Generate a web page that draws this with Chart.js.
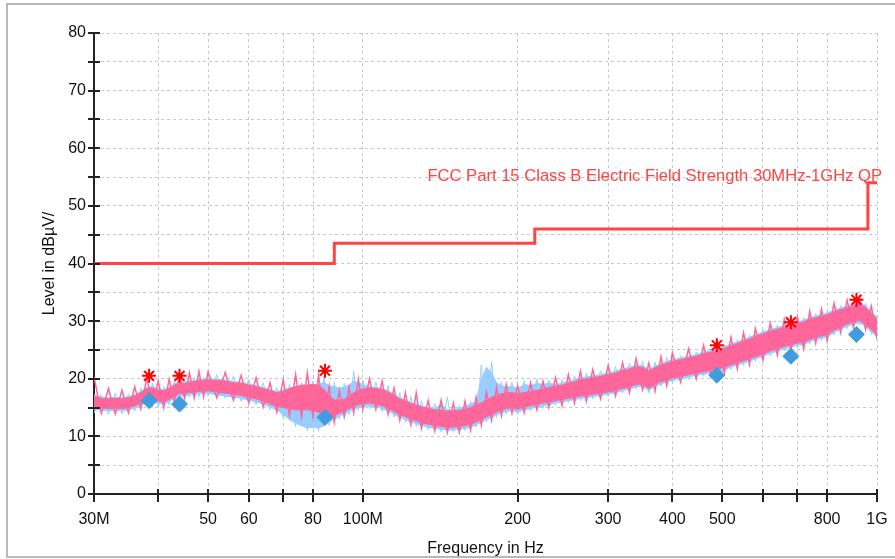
<!DOCTYPE html>
<html>
<head>
<meta charset="utf-8">
<script src="https://cdn.jsdelivr.net/npm/chart.js@4.4.1/dist/chart.umd.min.js"></script>
<style>
    html, body { margin: 0; padding: 0; background: #fff; overflow: hidden; width: 895px; height: 559px; }
    #frame { position: absolute; left: 6px; top: 3px; width: 887px; height: 551px; border: 2px solid #b9b9b9; border-right: none; }
    #wrap { position: absolute; left: 0; top: 0; width: 895px; height: 559px; }
</style>
</head>
<body>
<div id="frame"></div>
<div id="wrap"><canvas id="emc-chart"></canvas></div>
<script>
// frequencies in MHz
const freqMHz = [
    30, 31, 32, 33, 34, 35, 36, 37, 38, 39, 40, 41, 42, 43, 44, 45, 46, 47, 48, 49, 50,
    52, 54, 56, 58, 60, 62, 64, 66, 68, 70, 72, 74, 76, 78, 80, 82, 84, 86, 88, 90, 92, 94, 96, 98, 100,
    103, 106, 109, 112, 115, 118, 121, 124, 127, 130, 134, 138, 142, 146, 150,
    154, 158, 162, 166, 170, 174, 178, 182, 186, 190, 195, 200, 206, 212, 218, 224, 230,
    237, 244, 251, 258, 265, 272, 280, 290, 300, 310, 320, 330, 340, 350, 360, 370, 380, 390, 400,
    415, 430, 445, 460, 475, 490, 505, 520, 535, 550, 565, 580,
    600, 620, 640, 660, 680, 700, 720, 740, 760, 780, 800, 825, 850, 875, 900, 925, 950, 975, 1000
];

// pink trace: body of the band (upper / lower) and the noise peaks around it, dBuV/m
const pinkHi = [
    17.0, 16.6, 16.5, 16.6, 16.5, 16.7, 17.0, 17.6, 18.3, 18.4, 18.0, 17.9, 18.3, 18.9, 19.2, 19.2, 19.4, 19.5, 19.7, 19.7, 19.8,
    19.7, 19.6, 19.3, 19.2, 18.9, 18.6, 18.3, 17.9, 17.6, 17.8, 18.3, 18.6, 18.9, 18.9, 19.0, 18.8, 18.2, 17.0, 16.3, 16.3, 16.4, 16.9, 17.6, 18.0, 18.2,
    18.4, 18.3, 18.1, 17.7, 17.1, 16.5, 16.1, 15.7, 15.4, 15.1, 14.8, 14.6, 14.5, 14.4, 14.4,
    14.5, 14.7, 15.0, 15.4, 15.8, 16.3, 16.8, 17.1, 17.4, 17.5, 17.6, 17.4, 17.6, 17.8, 18.0, 18.2, 18.5,
    18.7, 18.9, 19.2, 19.5, 19.8, 20.0, 20.2, 20.4, 20.7, 21.0, 21.4, 21.7, 22.0, 22.0, 21.3, 21.9, 22.3, 22.7, 23.0,
    23.3, 23.6, 23.9, 24.3, 24.6, 24.9, 25.3, 25.7, 26.1, 26.5, 26.9, 27.3,
    27.8, 28.2, 28.6, 28.9, 29.2, 29.5, 29.9, 30.3, 30.6, 30.8, 31.1, 31.6, 32.0, 32.3, 32.7, 32.9, 32.4, 31.3, 30.4
];
const pinkLo = [
    15.0, 15.0, 14.8, 14.9, 14.8, 15.0, 15.3, 15.8, 16.3, 16.5, 16.1, 16.0, 16.4, 17.0, 17.4, 17.5, 17.6, 17.7, 17.8, 17.9, 17.9,
    17.7, 17.5, 17.3, 17.1, 16.8, 16.5, 16.1, 15.6, 15.2, 15.0, 14.8, 14.6, 14.6, 14.6, 14.5, 14.2, 13.6, 13.3, 13.6, 14.0, 14.4, 14.8, 15.2, 15.5, 15.7,
    15.8, 15.6, 15.3, 14.9, 14.3, 13.8, 13.4, 13.0, 12.7, 12.4, 12.1, 11.9, 11.7, 11.6, 11.6,
    11.7, 11.9, 12.1, 12.5, 12.9, 13.4, 13.8, 14.2, 14.6, 14.8, 15.0, 14.7, 15.1, 15.3, 15.6, 15.8, 16.0,
    16.2, 16.4, 16.6, 16.8, 17.0, 17.1, 17.3, 17.5, 17.7, 18.0, 18.3, 18.6, 19.0, 19.1, 18.3, 19.1, 19.5, 19.8, 20.1,
    20.4, 20.7, 21.0, 21.2, 21.5, 21.7, 22.0, 22.4, 22.8, 23.1, 23.5, 23.8,
    24.3, 24.8, 25.2, 25.6, 25.9, 26.2, 26.3, 26.8, 27.2, 27.4, 27.7, 28.4, 29.0, 29.5, 29.9, 30.1, 29.5, 28.5, 27.7
];
const pinkNoise = [
    20.3, 14.0, 18.3, 13.9, 18.0, 14.1, 18.6, 14.8, 20.1, 15.5, 19.6, 15.0, 19.9, 16.0, 20.9, 16.5, 21.0, 16.7, 21.3, 16.9, 21.2,
    16.7, 21.1, 16.3, 20.6, 15.8, 20.2, 15.1, 19.3, 14.2, 19.8, 13.7, 20.7, 13.5, 21.0, 13.4, 20.6, 12.5, 18.7, 12.4, 17.9, 13.4, 18.5, 14.1, 19.9, 14.7,
    20.0, 14.7, 19.6, 13.8, 18.4, 12.8, 17.6, 12.0, 17.5, 11.4, 16.2, 10.9, 16.3, 10.7, 15.8,
    10.7, 16.1, 11.1, 16.8, 11.9, 17.7, 12.8, 18.5, 13.6, 19.0, 14.0, 18.8, 14.1, 19.3, 14.6, 19.6, 15.0,
    20.2, 15.3, 20.7, 15.8, 21.3, 16.1, 21.6, 16.5, 22.3, 17.0, 22.8, 17.6, 23.5, 18.1, 22.7, 17.8, 23.8, 18.8, 24.5,
    19.4, 25.2, 20.0, 25.8, 20.5, 26.3, 21.0, 27.2, 21.7, 28.0, 22.5, 28.7,
    23.2, 29.6, 24.1, 30.3, 24.9, 30.8, 25.2, 31.7, 26.2, 32.1, 26.6, 33.1, 28.0, 33.6, 28.9, 34.2, 28.5, 32.6, 26.8
];

// light blue trace: body (upper / lower) and noise peaks
const blueHi = [
    17.2, 16.8, 16.7, 16.8, 16.7, 16.9, 17.2, 17.8, 18.5, 18.6, 18.2, 18.1, 18.5, 19.1, 19.4, 19.4, 19.6, 19.7, 19.9, 19.9, 20.0,
    19.9, 19.8, 19.5, 19.4, 19.1, 18.8, 18.5, 18.1, 17.8, 18.0, 18.4, 18.6, 18.8, 18.9, 19.0, 19.0, 19.4, 18.8, 18.6, 18.4, 18.6, 18.9, 19.6, 19.3, 19.0,
    18.6, 18.5, 18.3, 17.9, 17.3, 16.7, 16.3, 15.9, 15.6, 15.3, 15.0, 14.8, 15.6, 14.6, 14.6,
    14.9, 15.1, 15.6, 16.0, 20.0, 22.0, 21.0, 19.3, 18.8, 18.6, 18.7, 18.3, 19.0, 18.8, 19.2, 19.0, 19.2,
    19.0, 19.2, 19.5, 19.8, 20.1, 20.3, 20.5, 20.7, 21.0, 21.3, 21.7, 22.0, 22.3, 22.3, 21.6, 22.2, 22.6, 23.0, 23.3,
    23.6, 23.9, 24.2, 24.6, 24.9, 25.2, 25.6, 26.0, 26.4, 26.8, 27.2, 27.6,
    28.1, 28.5, 28.9, 29.2, 29.5, 29.8, 30.2, 30.6, 30.9, 31.1, 31.4, 31.9, 32.3, 32.6, 33.0, 33.2, 32.7, 31.6, 30.7
];
const blueLo = [
    14.6, 14.6, 14.4, 14.5, 14.4, 14.6, 14.9, 15.4, 15.9, 16.1, 15.7, 15.6, 16.0, 16.6, 17.0, 17.1, 17.2, 17.3, 17.4, 17.5, 17.5,
    17.2, 17.0, 16.8, 16.6, 16.3, 16.0, 15.6, 15.1, 14.6, 13.8, 12.9, 12.3, 11.8, 11.5, 11.6, 11.4, 11.9, 12.5, 13.0, 13.5, 13.9, 14.3, 14.7, 15.0, 15.2,
    15.3, 15.1, 14.8, 14.4, 13.8, 13.3, 12.9, 12.5, 12.2, 11.9, 11.6, 11.4, 11.2, 11.1, 11.1,
    11.2, 11.4, 11.6, 12.0, 12.4, 12.9, 13.3, 13.7, 14.1, 14.3, 14.5, 14.2, 14.6, 14.8, 15.1, 15.3, 15.5,
    15.8, 16.0, 16.2, 16.4, 16.6, 16.7, 16.9, 17.1, 17.3, 17.6, 17.9, 18.2, 18.6, 18.7, 17.9, 18.7, 19.1, 19.4, 19.7,
    20.0, 20.3, 20.6, 20.8, 21.1, 21.3, 21.6, 22.0, 22.4, 22.7, 23.1, 23.4,
    23.9, 24.4, 24.8, 25.2, 25.5, 25.8, 25.9, 26.4, 26.8, 27.0, 27.3, 28.0, 28.6, 29.1, 29.5, 29.7, 29.1, 28.1, 27.3
];
const blueNoise = [
    14.0, 17.3, 13.8, 17.5, 13.9, 17.4, 14.4, 18.4, 15.3, 19.2, 15.1, 18.6, 15.5, 19.7, 16.4, 19.9, 16.8, 20.2, 16.9, 20.3, 17.0,
    20.7, 16.6, 20.4, 16.1, 19.9, 15.5, 19.3, 14.6, 18.5, 13.2, 19.0, 11.7, 19.4, 11.0, 19.6, 10.9, 20.4, 11.9, 19.4, 13.0, 19.2, 13.8, 21.3, 14.5, 19.8,
    14.8, 19.4, 14.3, 18.8, 13.3, 17.6, 12.4, 16.9, 11.7, 16.2, 11.1, 15.7, 10.8, 16.8, 10.7,
    15.4, 11.0, 16.1, 11.6, 22.4, 12.5, 23.0, 13.3, 19.5, 13.9, 19.4, 13.8, 19.7, 14.4, 19.9, 14.9, 19.8,
    15.4, 19.9, 15.8, 20.5, 16.2, 21.0, 16.5, 21.4, 16.9, 22.1, 17.5, 22.7, 18.2, 23.1, 17.5, 22.9, 18.7, 23.7, 19.3,
    24.0, 19.9, 24.6, 20.4, 25.3, 20.9, 26.0, 21.6, 26.8, 22.3, 27.6, 23.0,
    28.5, 24.0, 29.3, 24.8, 29.9, 25.4, 30.6, 26.0, 31.3, 26.6, 31.8, 27.6, 32.7, 28.7, 33.4, 29.3, 33.1, 27.7, 31.0
];

// FCC Part 15 class B QP limit
const limitFreqs = [30, 88, 216, 960, 1000];
const limitLevels = [40, 43.5, 46, 54, 54];

// final measurement points
const markFreqs = [38.4, 44.0, 84.4, 488, 680, 912];
const peakLevels = [20.5, 20.5, 21.4, 25.8, 29.8, 33.7];
const qpLevels = [16.2, 15.6, 13.3, 20.6, 23.9, 27.7];

const xTickValues = [30, 40, 50, 60, 70, 80, 100, 200, 300, 400, 500, 600, 700, 800, 1000];
const xTickLabels = ['30M', '', '50', '60', '', '80', '100M', '200', '300', '400', '500', '', '', '800', '1G'];

const limitText = 'FCC Part 15 Class B Electric Field Strength 30MHz-1GHz QP';
const fontFamily = 'Arial, "Liberation Sans", sans-serif';
const pink = '#ff6699';
const lightBlue = '#99ccff';

const toPoints = (xs, ys) => xs.map((x, i) => ({ x, y: ys[i] }));

const axisTicksPlugin = {
    id: 'axisTicks',
    afterDraw(chart) {
        const { ctx, chartArea, scales: { x, y } } = chart;
        ctx.save();
        ctx.strokeStyle = '#222';
        ctx.lineWidth = 2;
        ctx.beginPath();
        x.ticks.forEach(t => {
            const px = Math.round(x.getPixelForValue(t.value));
            ctx.moveTo(px, chartArea.bottom - 5);
            ctx.lineTo(px, chartArea.bottom + 8);
        });
        y.ticks.forEach(t => {
            const py = Math.round(y.getPixelForValue(t.value));
            ctx.moveTo(chartArea.left - 6, py);
            ctx.lineTo(chartArea.left + 6, py);
        });
        ctx.stroke();
        ctx.restore();
    }
};

const limitLabelPlugin = {
    id: 'limitLabel',
    afterDatasetsDraw(chart) {
        const { ctx, scales: { x, y } } = chart;
        ctx.save();
        ctx.font = '16.6px ' + fontFamily;
        ctx.fillStyle = '#ff4444';
        ctx.textAlign = 'right';
        ctx.textBaseline = 'alphabetic';
        ctx.fillText(limitText, x.getPixelForValue(1000) + 5, y.getPixelForValue(54) - 2);
        ctx.restore();
    }
};

const bandLine = (label, values, color, fill) => ({
    label,
    data: toPoints(freqMHz, values),
    borderColor: color,
    backgroundColor: color,
    borderWidth: 1,
    pointRadius: 0,
    fill
});

new Chart(document.getElementById('emc-chart'), {
    type: 'line',
    data: {
        datasets: [
            {
                label: 'Peak',
                data: toPoints(markFreqs, peakLevels),
                showLine: false,
                pointStyle: 'star',
                pointRadius: 7,
                borderWidth: 2,
                borderColor: '#ff0000',
                backgroundColor: '#ff0000'
            },
            {
                label: 'QP',
                data: toPoints(markFreqs, qpLevels),
                showLine: false,
                pointStyle: 'rectRot',
                pointRadius: 8,
                borderWidth: 1,
                borderColor: '#409be0',
                backgroundColor: '#409be0'
            },
            {
                label: 'Limit',
                data: toPoints(limitFreqs, limitLevels),
                stepped: 'before',
                borderColor: '#ff4444',
                borderWidth: 3,
                pointRadius: 0,
                fill: false
            },
            { ...bandLine('Pink noise', pinkNoise, pink, false), borderWidth: 1.5 },
            bandLine('Pink high', pinkHi, pink, '+1'),
            bandLine('Pink low', pinkLo, pink, false),
            bandLine('Blue noise', blueNoise, lightBlue, false),
            bandLine('Blue high', blueHi, lightBlue, '+1'),
            bandLine('Blue low', blueLo, lightBlue, false)
        ]
    },
    options: {
        responsive: true,
        maintainAspectRatio: false,
        animation: false,
        devicePixelRatio: 1,
        layout: { padding: { top: 33, right: 18, left: 0, bottom: 0 } },
        plugins: {
            legend: { display: false },
            tooltip: { enabled: false }
        },
        scales: {
            x: {
                type: 'logarithmic',
                min: 30,
                max: 1000,
                afterBuildTicks: scale => {
                    scale.ticks = xTickValues.map(v => ({ value: v }));
                },
                afterFit: scale => {
                    scale.height = 65;
                    scale.paddingLeft = 0;
                    scale.paddingRight = 0;
                },
                ticks: {
                    autoSkip: false,
                    maxRotation: 0,
                    padding: 16,
                    color: '#111',
                    font: { family: fontFamily, size: 16 },
                    callback: (value, index) => xTickLabels[index]
                },
                grid: { color: '#c8c8c8', lineWidth: 1, drawTicks: false },
                border: { display: true, color: '#222', width: 2, dash: [3, 3] },
                title: {
                    display: true,
                    text: 'Frequency in Hz',
                    color: '#111',
                    font: { family: fontFamily, size: 16 },
                    padding: { top: 0, bottom: 1 }
                }
            },
            y: {
                min: 0,
                max: 80,
                afterFit: scale => { scale.width = 94; },
                ticks: {
                    stepSize: 5,
                    padding: 8,
                    color: '#111',
                    font: { family: fontFamily, size: 16 },
                    callback: value => (value % 10 === 0 ? value : '')
                },
                grid: { color: '#c8c8c8', lineWidth: 1, drawTicks: false },
                border: { display: true, color: '#222', width: 2, dash: [3, 3] },
                title: {
                    display: true,
                    text: 'Level in dBµV/',
                    color: '#111',
                    font: { family: fontFamily, size: 16 },
                    padding: { top: 40, bottom: 0 }
                }
            }
        }
    },
    plugins: [axisTicksPlugin, limitLabelPlugin]
});
</script>
</body>
</html>
